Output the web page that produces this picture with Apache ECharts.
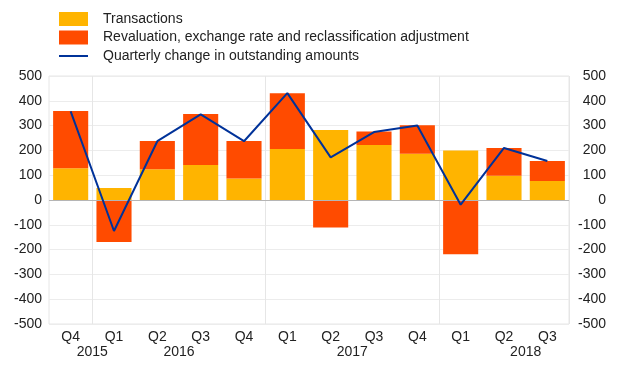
<!DOCTYPE html>
<html><head><meta charset="utf-8">
<script src="https://cdn.jsdelivr.net/npm/echarts@6/dist/echarts.min.js"></script>
<style>html,body{margin:0;padding:0;background:#fff}#c{width:620px;height:387px}</style>
</head><body><div id="c"></div>
<script>
var quarters = ['Q4','Q1','Q2','Q3','Q4','Q1','Q2','Q3','Q4','Q1','Q2','Q3'];
var transactions = [128, 48, 124, 141, 87, 206, 282, 222, 186, 200, 98, 77];
var revaluation = [231, -169, 114, 206, 151, 224, -111, 54, 115, -219, 112, 80];
var quarterlyChange = [357, -125, 237, 345, 237, 431, 172, 274, 300, -19, 210, 157];
var yearLabels = ['2015', '2016', '2017', '2018'];
var yearLabelAt = [0.5, 2.5, 6.5, 10.5];
var yTicks = [-500, -400, -300, -200, -100, 0, 100, 200, 300, 400, 500];
var yearStartIdx = [1, 5, 9];

var FONT = 'Liberation Sans, Arial, sans-serif';
var chart = echarts.init(document.getElementById('c'));
var yAxisBase = {
  type: 'value', min: yTicks[0], max: yTicks[yTicks.length - 1], interval: 100,
  axisLine: {show: false}, axisTick: {show: false},
  splitLine: {show: true, lineStyle: {color: '#ececec', width: 1}},
  axisLabel: {color: '#222', fontSize: 14, fontFamily: FONT}
};
chart.setOption({
  animation: false,
  textStyle: {fontFamily: FONT},
  legend: {
    orient: 'vertical', left: 59, top: 12, padding: 0, itemWidth: 29, itemHeight: 14, itemGap: 4.5,
    symbolKeepAspect: true,
    textStyle: {color: '#222', fontSize: 14, fontFamily: FONT, padding: [0, 0, 0, 10]},
    data: [
      {name: 'Transactions', icon: 'rect'},
      {name: 'Revaluation, exchange rate and reclassification adjustment', icon: 'rect'},
      {name: 'Quarterly change in outstanding amounts', icon: 'path://M0,0H29V2H0Z'}
    ]
  },
  grid: {left: 49, right: 51, top: 76, bottom: 63, show: true, borderColor: '#e6e6e6', borderWidth: 1},
  xAxis: [{
    type: 'category', data: quarters, position: 'bottom',
    axisLine: {show: false},
    axisTick: {show: true, length: 11, lineStyle: {color: '#e6e6e6'},
      interval: function (i) { return yearStartIdx.indexOf(i) >= 0; }},
    splitLine: {show: true, lineStyle: {color: '#e6e6e6'},
      interval: function (i) { return yearStartIdx.indexOf(i) >= 0; }},
    axisLabel: {color: '#222', fontSize: 14, margin: 6, interval: 0}
  }, {
    type: 'value', position: 'bottom', min: -0.5, max: quarters.length - 0.5,
    axisLine: {show: false}, axisTick: {show: false}, splitLine: {show: false},
    axisLabel: {color: '#222', fontSize: 14, margin: 21, customValues: yearLabelAt,
      formatter: function (v) { var k = yearLabelAt.indexOf(v); return k >= 0 ? yearLabels[k] : ''; }}
  }],
  yAxis: [
    Object.assign({}, yAxisBase, {position: 'left', axisLabel: Object.assign({}, yAxisBase.axisLabel, {margin: 7})}),
    Object.assign({}, yAxisBase, {position: 'right', splitLine: {show: false},
      axisLabel: Object.assign({}, yAxisBase.axisLabel, {margin: 37, align: 'right'})})
  ],
  series: [
    {name: 'Transactions', type: 'bar', stack: 'total', data: transactions, barCategoryGap: '19%',
      itemStyle: {color: '#FFB400'},
      markLine: {silent: true, symbol: 'none', label: {show: false},
        lineStyle: {color: '#b5b5b5', type: 'solid', width: 1.2}, data: [{yAxis: 0}]}},
    {name: 'Revaluation, exchange rate and reclassification adjustment', type: 'bar', stack: 'total',
      data: revaluation, itemStyle: {color: '#FF4B00'}},
    {name: 'Quarterly change in outstanding amounts', type: 'line', data: quarterlyChange,
      symbol: 'none', z: 5, lineStyle: {color: '#003299', width: 2}, itemStyle: {color: '#003299'}}
  ]
});
</script></body></html>
